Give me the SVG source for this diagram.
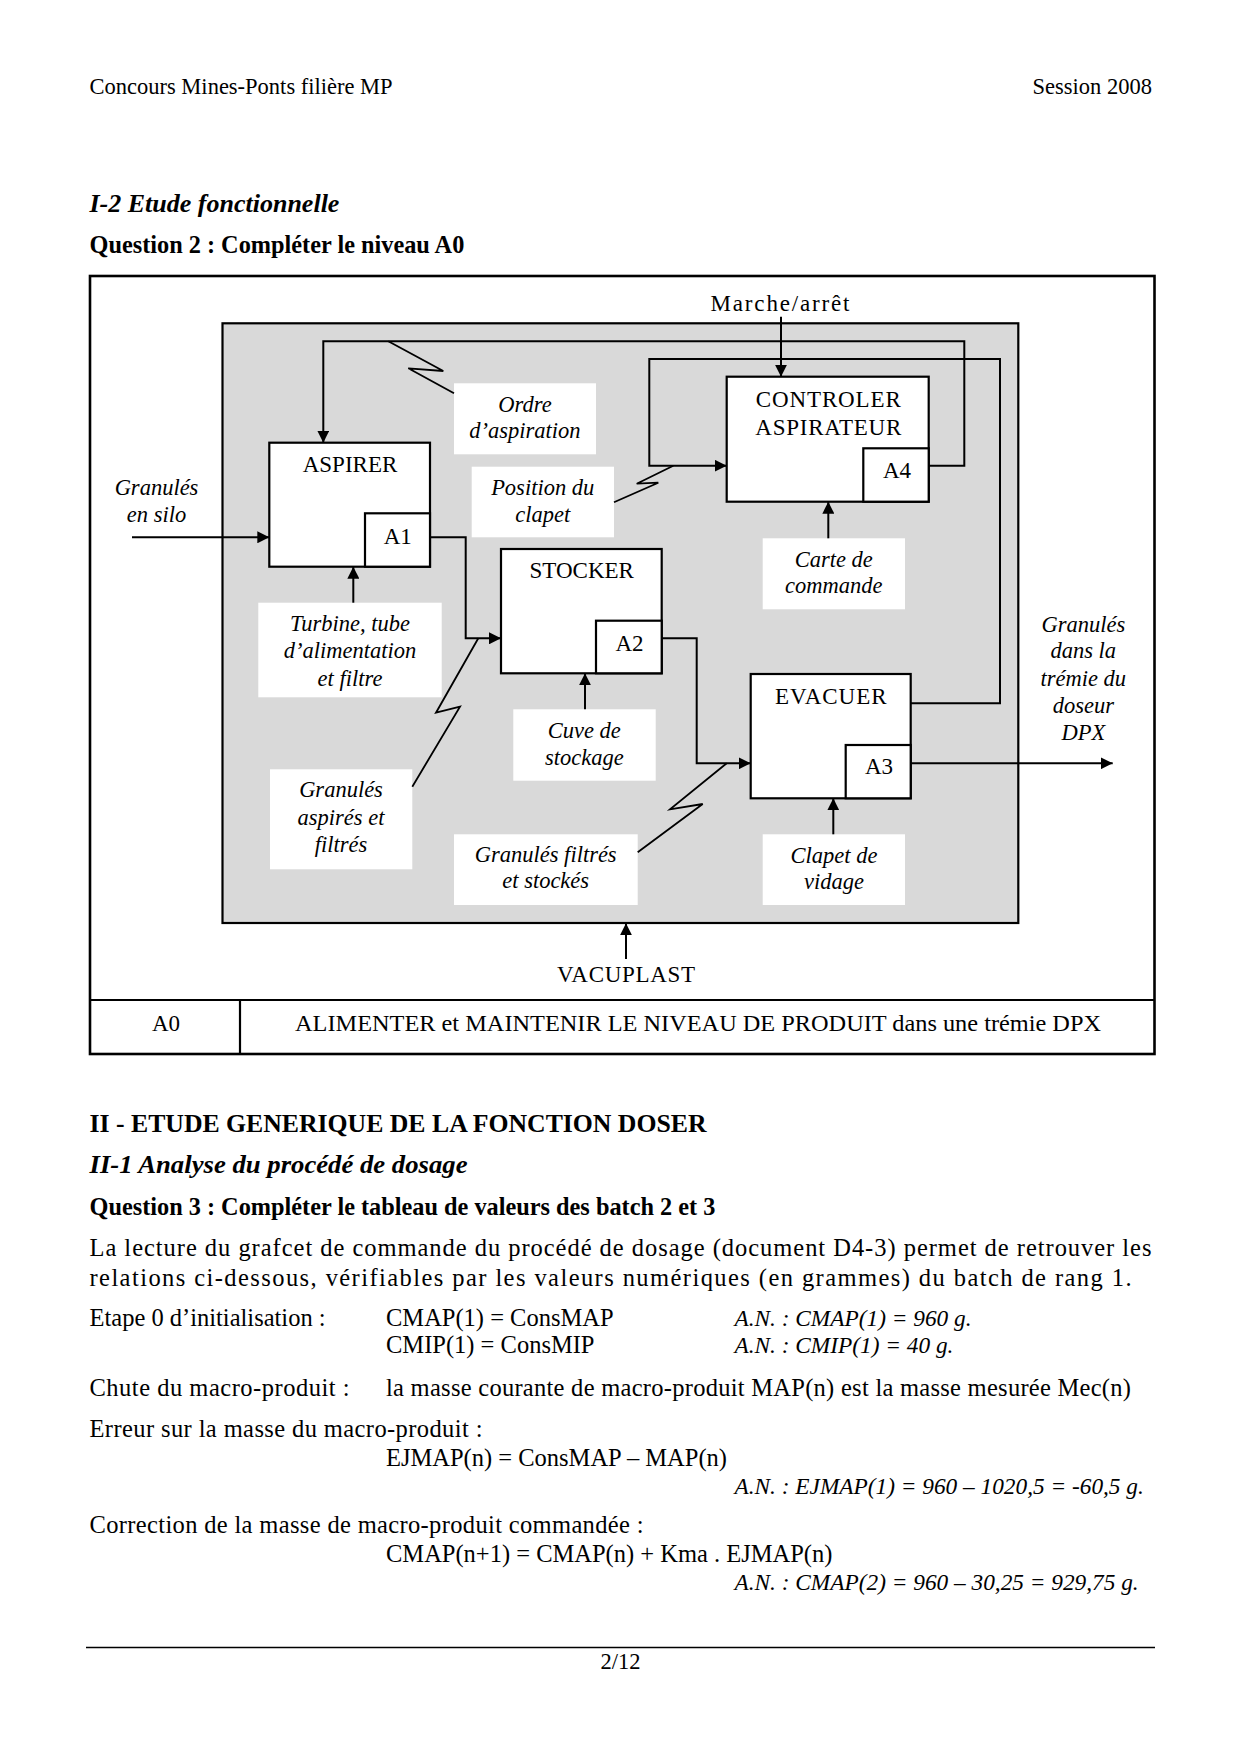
<svg xmlns="http://www.w3.org/2000/svg" width="1240" height="1754" viewBox="0 0 1240 1754">
<defs>
<marker id="arr" markerUnits="userSpaceOnUse" markerWidth="13" markerHeight="12" refX="12" refY="6" orient="auto">
<path d="M0,0 L12,6 L0,12 z" fill="#000"/>
</marker>
<style>
.t{font-family:"Liberation Serif","Times New Roman",serif;fill:#000}
.hd{font-size:22.5px}
.bd{font-size:24.5px}
.h1{font-size:26px;font-weight:bold}
.bi{font-size:26px;font-weight:bold;font-style:italic}
.q{font-size:24.3px;font-weight:bold}
.it{font-style:italic;font-size:23.3px}
.bx{font-size:23px;text-anchor:middle}
.lb{font-size:22.5px;font-style:italic;text-anchor:middle}
.box{fill:#fff;stroke:#000;stroke-width:2.2}
.lab{fill:#fff;stroke:none}
.cn{fill:none;stroke:#000;stroke-width:2}
.zz{fill:none;stroke:#000;stroke-width:1.8}
</style>
</defs>
<rect width="1240" height="1754" fill="#fff"/>

<!-- page header -->
<text class="t hd" x="89.5" y="93.5">Concours Mines-Ponts filière MP</text>
<text class="t hd" x="1152" y="93.5" text-anchor="end">Session 2008</text>
<text class="t bi" x="89.5" y="212">I-2 Etude fonctionnelle</text>
<text class="t q" x="89.5" y="253">Question 2 : Compléter le niveau A0</text>

<!-- frame -->
<g id="frame">
<rect x="90" y="276" width="1064.5" height="778" fill="#fff" stroke="#000" stroke-width="2.6"/>
<line x1="90" y1="1000" x2="1154.5" y2="1000" stroke="#000" stroke-width="2.2"/>
<line x1="240" y1="1000" x2="240" y2="1054" stroke="#000" stroke-width="2.2"/>
<rect x="222.5" y="323.3" width="795.8" height="599.7" fill="#d9d9d9" stroke="#000" stroke-width="2.2"/>
<text class="t bx" x="166" y="1030.7">A0</text>
<text class="t" x="295" y="1030.7" font-size="23" textLength="806" lengthAdjust="spacingAndGlyphs">ALIMENTER et MAINTENIR LE NIVEAU DE PRODUIT dans une trémie DPX</text>
</g>

<!-- label boxes -->
<g id="lbl-ordre"><rect class="lab" x="454" y="383.3" width="142" height="71"/>
<text class="t lb" x="525" y="411.7">Ordre</text><text class="t lb" x="525" y="438.3">d’aspiration</text></g>
<g id="lbl-position"><rect class="lab" x="471.7" y="466.7" width="142.3" height="70.6"/>
<text class="t lb" x="542.7" y="495">Position du</text><text class="t lb" x="542.7" y="521.7">clapet</text></g>
<g id="lbl-turbine"><rect class="lab" x="258.3" y="602.7" width="183.4" height="94.6"/>
<text class="t lb" x="350" y="630.7">Turbine, tube</text><text class="t lb" x="350" y="658.3">d’alimentation</text><text class="t lb" x="350" y="686">et filtre</text></g>
<g id="lbl-carte"><rect class="lab" x="762.7" y="538.3" width="142.3" height="71"/>
<text class="t lb" x="833.8" y="566.7">Carte de</text><text class="t lb" x="833.8" y="593.3">commande</text></g>
<g id="lbl-cuve"><rect class="lab" x="513.3" y="709.3" width="142.4" height="71.4"/>
<text class="t lb" x="584.3" y="738.3">Cuve de</text><text class="t lb" x="584.3" y="765">stockage</text></g>
<g id="lbl-aspires"><rect class="lab" x="270" y="769.3" width="142.3" height="100"/>
<text class="t lb" x="341" y="796.7">Granulés</text><text class="t lb" x="341" y="825">aspirés et</text><text class="t lb" x="341" y="852.3">filtrés</text></g>
<g id="lbl-stockes"><rect class="lab" x="454" y="834.3" width="183.7" height="70.7"/>
<text class="t lb" x="545.7" y="861.7">Granulés filtrés</text><text class="t lb" x="545.7" y="888.3">et stockés</text></g>
<g id="lbl-clapet"><rect class="lab" x="762.7" y="834.3" width="142.3" height="70.7"/>
<text class="t lb" x="834" y="863.3">Clapet de</text><text class="t lb" x="834" y="889.3">vidage</text></g>

<g id="lbl-silo"><text class="t lb" x="156.5" y="495">Granulés</text><text class="t lb" x="156.5" y="522">en silo</text></g>
<g id="lbl-sortie"><text class="t lb" x="1083.3" y="631.7">Granulés</text><text class="t lb" x="1083.3" y="658.3">dans la</text><text class="t lb" x="1083.3" y="686">trémie du</text><text class="t lb" x="1083.3" y="713.3">doseur</text><text class="t lb" x="1083.3" y="740">DPX</text></g>
<g id="lbl-marche"><text class="t bx" x="780" y="311" textLength="139" lengthAdjust="spacing">Marche/arrêt</text></g>
<g id="lbl-vacuplast"><text class="t bx" x="626" y="981.7" textLength="138" lengthAdjust="spacing">VACUPLAST</text></g>

<!-- function boxes -->
<g id="A1">
<rect class="box" x="269.3" y="442.7" width="160.7" height="124"/>
<rect class="box" x="365" y="513.3" width="65" height="53.4"/>
<text class="t bx" x="350" y="471.7">ASPIRER</text>
<text class="t bx" x="397.7" y="544">A1</text>
</g>
<g id="A2">
<rect class="box" x="501" y="549" width="160.7" height="124.3"/>
<rect class="box" x="596" y="620.7" width="65.7" height="52.6"/>
<text class="t bx" x="581.7" y="578.3">STOCKER</text>
<text class="t bx" x="629.5" y="650.7">A2</text>
</g>
<g id="A3">
<rect class="box" x="750.7" y="674" width="160" height="124.3"/>
<rect class="box" x="845.7" y="745" width="65" height="53.3"/>
<text class="t bx" x="831.3" y="704" letter-spacing="1">EVACUER</text>
<text class="t bx" x="879" y="774">A3</text>
</g>
<g id="A4">
<rect class="box" x="726.7" y="376.7" width="202" height="125"/>
<rect class="box" x="863.3" y="448.3" width="65.4" height="53.4"/>
<text class="t bx" x="828.3" y="407.3" textLength="145" lengthAdjust="spacing">CONTROLER</text>
<text class="t bx" x="828.3" y="435" textLength="146" lengthAdjust="spacing">ASPIRATEUR</text>
<text class="t bx" x="897" y="478.3">A4</text>
</g>

<!-- connectors -->
<g id="connectors">
<path class="cn" d="M132,537.3 H269.3" marker-end="url(#arr)"/>
<path class="cn" d="M430,537.3 H465.7 V638.3 H501" marker-end="url(#arr)"/>
<path class="cn" d="M661.7,638.3 H696.7 V763.3 H750.7" marker-end="url(#arr)"/>
<path class="cn" d="M910.7,763.3 H1112.7" marker-end="url(#arr)"/>
<path class="cn" d="M928.7,465.7 H964.3 V341.3 H323.3 V442.7" marker-end="url(#arr)"/>
<path class="cn" d="M910.7,703.3 H1000 V359 H649.3 V465.7 H726.7" marker-end="url(#arr)"/>
<path class="cn" d="M781,316.7 V376.7" marker-end="url(#arr)"/>
<path class="cn" d="M828.3,538.3 V501.7" marker-end="url(#arr)"/>
<path class="cn" d="M353.3,602.7 V566.7" marker-end="url(#arr)"/>
<path class="cn" d="M585,709.3 V673.3" marker-end="url(#arr)"/>
<path class="cn" d="M833.3,834.3 V798.3" marker-end="url(#arr)"/>
<path class="cn" d="M626,959 V923.3" marker-end="url(#arr)"/>
<polyline class="zz" points="388.3,341.3 443.3,371 408.3,368.3 454,393.3"/>
<polyline class="zz" points="614,502.3 658.3,482.7 636.7,483.7 673.3,465.7"/>
<polyline class="zz" points="412.3,786.7 460,706.7 436,712.7 478.3,638.3"/>
<polyline class="zz" points="637.7,852.3 702.7,804 670,809.3 726.7,763.3"/>
</g>

<!-- section II -->
<text class="t h1" x="89.5" y="1131.5" textLength="617" lengthAdjust="spacingAndGlyphs">II - ETUDE GENERIQUE DE LA FONCTION DOSER</text>
<text class="t bi" x="89.5" y="1172.5" textLength="378" lengthAdjust="spacingAndGlyphs">II-1 Analyse du procédé de dosage</text>
<text class="t q" x="89.5" y="1215">Question 3 : Compléter le tableau de valeurs des batch 2 et 3</text>
<text class="t bd" x="89.5" y="1255.5" textLength="1062" lengthAdjust="spacing">La lecture du grafcet de commande du procédé de dosage (document D4-3) permet de retrouver les</text>
<text class="t bd" x="89.5" y="1285.5" textLength="1042" lengthAdjust="spacing">relations ci-dessous, vérifiables par les valeurs numériques (en grammes) du batch de rang 1.</text>
<text class="t bd" x="89.5" y="1326">Etape 0 d’initialisation :</text>
<text class="t bd" x="386" y="1326">CMAP(1) = ConsMAP</text>
<text class="t bd it" x="734.5" y="1326">A.N. : CMAP(1) = 960 g.</text>
<text class="t bd" x="386" y="1353">CMIP(1) = ConsMIP</text>
<text class="t bd it" x="734.5" y="1353">A.N. : CMIP(1) = 40 g.</text>
<text class="t bd" x="89.5" y="1396" textLength="260" lengthAdjust="spacing">Chute du macro-produit :</text>
<text class="t bd" x="386" y="1396" textLength="745" lengthAdjust="spacing">la masse courante de macro-produit MAP(n) est la masse mesurée Mec(n)</text>
<text class="t bd" x="89.5" y="1436.5" textLength="393" lengthAdjust="spacing">Erreur sur la masse du macro-produit :</text>
<text class="t bd" x="386" y="1465.5">EJMAP(n) = ConsMAP – MAP(n)</text>
<text class="t bd it" x="734.5" y="1494">A.N. : EJMAP(1) = 960 – 1020,5 = -60,5 g.</text>
<text class="t bd" x="89.5" y="1532.5" textLength="554" lengthAdjust="spacing">Correction de la masse de macro-produit commandée :</text>
<text class="t bd" x="386" y="1561.5">CMAP(n+1) = CMAP(n) + Kma . EJMAP(n)</text>
<text class="t bd it" x="734.5" y="1590">A.N. : CMAP(2) = 960 – 30,25 = 929,75 g.</text>
<line x1="86" y1="1647.5" x2="1155" y2="1647.5" stroke="#000" stroke-width="1.5"/>
<text class="t hd" x="620.5" y="1669" text-anchor="middle">2/12</text>
</svg>
